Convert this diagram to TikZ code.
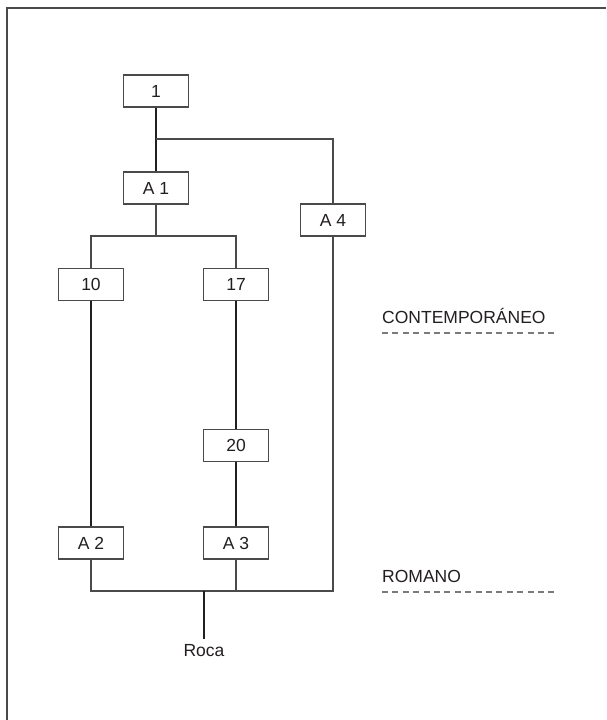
\documentclass[tikz,border=0pt]{standalone}
\usepackage{fontspec}
\setmainfont{Liberation Sans}
\definecolor{ink}{HTML}{231F20}
\definecolor{thin}{HTML}{4A4A4A}
\definecolor{dashc}{HTML}{7A7A7A}
\begin{document}
\begin{tikzpicture}[x=1pt,y=-1pt,
  font=\fontsize{17.5}{20}\selectfont,
  box/.style={draw=thin,line width=1.3pt,fill=white,minimum width=65pt,minimum height=32pt,inner sep=0pt,text=ink},
  thinline/.style={draw=thin,line width=1.3pt},
  thickline/.style={draw=ink,line width=2.4pt},
  era/.style={anchor=base west,inner sep=0pt,text=ink},
  eraline/.style={draw=dashc,line width=1.3pt,dash pattern=on 6pt off 4.4pt}]
\useasboundingbox (0,0) rectangle (606,720);
\fill[white] (0,0) rectangle (606,720);
% frame (top and left only)
\draw[draw=thin,line width=2pt] (7,720) -- (7,8) -- (606,8);
% boxes
\node[box] (n1) at (156,91) {1};
\node[box] (A1) at (156,188) {A 1};
\node[box] (A4) at (333,220) {A 4};
\node[box] (n10) at (91,284.5) {10};
\node[box] (n17) at (236,284.5) {17};
\node[box] (n20) at (236,445.5) {20};
\node[box] (A2) at (91,543) {A 2};
\node[box] (A3) at (236,543) {A 3};
\node[anchor=base,inner sep=0pt,text=ink] (roca) at (204,656) {Roca};
% junction coordinates
\coordinate (j1) at (156,139);
\coordinate (j2) at (156,236);
\coordinate (j3) at (204,591);
\coordinate (rt) at (204,639);
% connectors
\draw[thickline] (n1.south) -- (A1.north);
\draw[thinline] (j1) -| (A4.north);
\draw[thinline] (A1.south) -- (j2);
\draw[thinline] (n10.north) |- (j2) -| (n17.north);
\draw[thickline] (n10.south) -- (A2.north);
\draw[thickline] (n17.south) -- (n20.north);
\draw[thickline] (n20.south) -- (A3.north);
\draw[thinline] (A2.south) |- (j3);
\draw[thinline] (A4.south) |- (j3);
\draw[thinline] (A3.south) -- (A3.south |- j3);
\draw[thickline] (j3) -- (rt);
% era labels
\node[era] (cont) at (382,323) {CONTEMPOR\'ANEO};
\node[era] (rom) at (382,582) {ROMANO};
\coordinate (c1) at (382,333);
\coordinate (c2) at (557,333);
\coordinate (r1) at (382,592);
\coordinate (r2) at (557,592);
\draw[eraline] (c1) -- (c2);
\draw[eraline] (r1) -- (r2);
\end{tikzpicture}
\end{document}
